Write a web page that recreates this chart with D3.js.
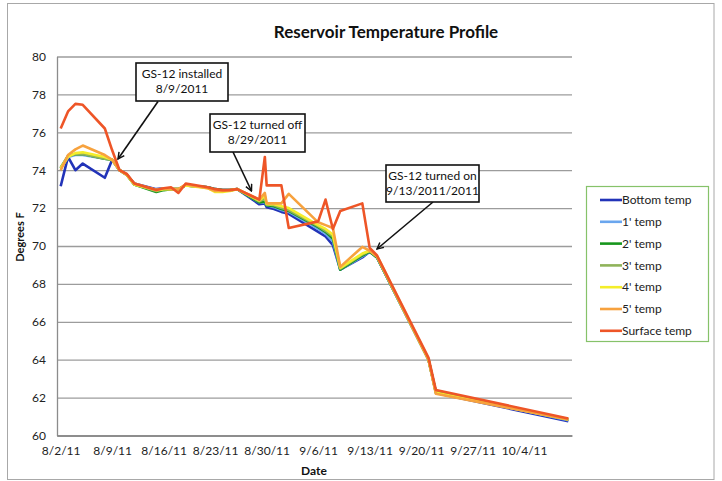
<!DOCTYPE html>
<html>
<head>
<meta charset="utf-8">
<script src="https://cdn.jsdelivr.net/npm/d3@7"></script>
<style>
  html, body { margin: 0; padding: 0; background: #fff; }
  svg { display: block; font-family: Lato, "Open Sans", sans-serif; }
</style>
</head>
<body>
<svg id="chart" width="722" height="481"></svg>
<script>
// ---------------- DATA ----------------
const title = "Reservoir Temperature Profile";
const seriesNames = ["Bottom temp", "1' temp", "2' temp", "3' temp", "4' temp", "5' temp", "Surface temp"];
const seriesColors = ["#2233b8", "#6aa6ee", "#17961c", "#8fb35a", "#f4ee2a", "#f7a23e", "#ee5527"];

const dates = [
  "2011-08-02", "2011-08-03", "2011-08-04", "2011-08-05", "2011-08-08", "2011-08-09", "2011-08-10",
  "2011-08-11", "2011-08-12", "2011-08-15", "2011-08-16", "2011-08-17", "2011-08-18", "2011-08-19",
  "2011-08-22", "2011-08-23", "2011-08-24", "2011-08-25", "2011-08-26", "2011-08-29", "2011-08-29 18:00",
  "2011-08-30", "2011-08-31", "2011-09-01", "2011-09-02", "2011-09-06", "2011-09-07", "2011-09-08",
  "2011-09-09", "2011-09-12", "2011-09-13", "2011-09-14", "2011-09-21", "2011-09-22", "2011-10-10"
];

const bottomTemp = [73.15, 74.7, 74.0, 74.35, 73.6, 74.55, 74.0, 73.75, 73.3, 73.0, 73.05, 73.0, 73.0, 73.2,
  73.1, 73.0, 72.95, 72.95, 73.0, 72.2, 72.25, 72.05, 71.95, 71.8, 71.7, 70.75, 70.5, 70.05,
  68.75, 69.4, 69.7, 69.4, 64.0, 62.25, 60.75];
const temp1 = [74.1, 74.7, 74.8, 74.8, 74.6, 74.55, 74.0, 73.75, 73.25, 72.95, 73.05, 73.0, 73.0, 73.2,
  73.1, 73.0, 72.95, 72.95, 73.0, 72.3, 72.3, 72.15, 72.05, 71.9, 71.8, 70.9, 70.65, 70.25,
  68.75, 69.45, 69.7, 69.4, 64.0, 62.3, 60.8];
const temp2 = [74.1, 74.75, 74.85, 74.85, 74.6, 74.55, 74.0, 73.75, 73.25, 72.85, 72.95, 73.0, 73.0, 73.2,
  73.1, 73.0, 72.95, 72.95, 73.0, 72.3, 72.35, 72.15, 72.1, 71.95, 71.85, 71.0, 70.75, 70.4,
  68.75, 69.5, 69.7, 69.4, 64.0, 62.3, 60.85];
const temp3 = [74.15, 74.75, 74.85, 74.85, 74.6, 74.55, 74.0, 73.75, 73.25, 72.9, 73.0, 73.0, 73.0, 73.2,
  73.1, 72.95, 72.9, 72.95, 73.0, 72.35, 72.5, 72.2, 72.15, 72.0, 71.9, 71.05, 70.8, 70.5,
  68.8, 69.55, 69.75, 69.45, 64.0, 62.3, 60.85];
const temp4 = [74.1, 74.7, 74.9, 74.95, 74.7, 74.55, 74.0, 73.75, 73.25, 72.95, 73.0, 73.0, 73.0, 73.2,
  73.05, 72.85, 72.85, 72.9, 73.0, 72.4, 72.65, 72.2, 72.2, 72.1, 72.0, 71.1, 70.9, 70.6,
  68.85, 69.6, 69.75, 69.45, 64.0, 62.25, 60.85];
const temp5 = [74.0, 74.8, 75.1, 75.3, 74.8, 74.55, 74.0, 73.75, 73.3, 72.95, 73.05, 73.0, 73.0, 73.25,
  73.05, 72.9, 72.9, 72.95, 73.0, 72.45, 72.8, 72.25, 72.25, 72.25, 72.75, 71.25, 71.1, 70.95,
  68.9, 69.95, 69.75, 69.45, 64.0, 62.2, 60.85];
const surfaceTemp = [76.2, 77.1, 77.5, 77.45, 76.2, 75.05, 74.0, 73.8, 73.3, 72.95, 73.05, 73.1, 72.8, 73.3,
  73.1, 73.0, 72.95, 72.95, 73.0, 72.45, 74.7, 73.2, 73.2, 73.2, 70.95, 71.3, 72.45, 70.9,
  71.85, 72.25, 69.9, 69.5, 64.1, 62.4, 60.9];

const yTicks = [60, 62, 64, 66, 68, 70, 72, 74, 76, 78, 80];
const xTickLabels = ["8/2/11", "8/9/11", "8/16/11", "8/23/11", "8/30/11", "9/6/11", "9/13/11", "9/20/11", "9/27/11", "10/4/11"];

const annotations = [
  {lines: ["GS-12 installed", "8/9/2011"]},
  {lines: ["GS-12 turned off", "8/29/2011"]},
  {lines: ["GS-12 turned on", "9/13/2011/2011"]}
];

// ---------------- CHART ----------------
const seriesValues = [bottomTemp, temp1, temp2, temp3, temp4, temp5, surfaceTemp];
const parseDate = s => s.length > 10 ? d3.utcParse("%Y-%m-%d %H:%M")(s) : d3.utcParse("%Y-%m-%d")(s);
const parseTick = d3.utcParse("%m/%d/%y");
const dateObjs = dates.map(parseDate);

const svg = d3.select("#chart");
const plot = {left: 57, right: 572, top: 56.5, bottom: 435.5};

// outer border
svg.append("rect").attr("x", 7.5).attr("y", 3.5).attr("width", 706.5).attr("height", 476)
  .attr("fill", "#fff").attr("stroke", "#a8a8a8").attr("stroke-width", 1);

const x = d3.scaleUtc()
  .domain([Date.UTC(2011, 7, 1, 12), Date.UTC(2011, 9, 10, 12)])
  .range([plot.left, plot.right]);
const y = d3.scaleLinear().domain([60, 80]).range([plot.bottom, plot.top]);

// title
svg.append("text").attr("x", 386).attr("y", 38).attr("text-anchor", "middle")
  .attr("font-size", 17).attr("font-weight", "bold").attr("fill", "#111").text(title);

// gridlines
svg.append("g").attr("class", "grid")
  .attr("transform", `translate(${plot.left},0)`)
  .call(d3.axisLeft(y).tickValues(yTicks).tickSize(-(plot.right - plot.left)).tickFormat(""))
  .call(g => g.select(".domain").remove())
  .call(g => g.selectAll("line").attr("stroke", "#9c9c9c").attr("stroke-width", 1.3));

// y axis labels
const yAxis = svg.append("g").attr("transform", `translate(${plot.left},0)`)
  .call(d3.axisLeft(y).tickValues(yTicks).tickSize(0).tickPadding(11).tickFormat(d3.format("d")));
yAxis.select(".domain").attr("stroke", "#8c8c8c").attr("stroke-width", 1.3);
yAxis.selectAll("text").attr("font-size", 12).attr("fill", "#222").attr("font-family", "Lato, sans-serif");

// x axis
const xAxis = svg.append("g").attr("transform", `translate(0,${plot.bottom})`)
  .call(d3.axisBottom(x).tickValues(xTickLabels.map(parseTick)).tickSize(0).tickPadding(11)
    .tickFormat((d, i) => xTickLabels[i]));
xAxis.select(".domain").attr("stroke", "#808080").attr("stroke-width", 1.6);
xAxis.selectAll("text").attr("font-size", 12).attr("fill", "#222").attr("font-family", "Lato, sans-serif");

// axis titles
svg.append("text").attr("x", 314).attr("y", 475).attr("text-anchor", "middle")
  .attr("font-size", 12).attr("font-weight", "bold").attr("fill", "#111").text("Date");
svg.append("text").attr("transform", "translate(24,237) rotate(-90)").attr("text-anchor", "middle")
  .attr("font-size", 11).attr("font-weight", "bold").attr("fill", "#111").text("Degrees F");

// lines
const line = d3.line().x((d, i) => x(dateObjs[i])).y(d => y(d));
svg.append("g").selectAll("path").data(seriesValues).join("path")
  .attr("d", d => line(d))
  .attr("fill", "none")
  .attr("stroke", (d, i) => seriesColors[i])
  .attr("stroke-width", 2.6)
  .attr("stroke-linejoin", "round");

// legend
const lg = svg.append("g");
lg.append("rect").attr("x", 586.5).attr("y", 186.5).attr("width", 122).attr("height", 155)
  .attr("fill", "#fff").attr("stroke", "#86c26a").attr("stroke-width", 1.2);
seriesNames.forEach((name, i) => {
  const yy = 200 + i * 21.8;
  lg.append("line").attr("x1", 600).attr("x2", 622).attr("y1", yy).attr("y2", yy)
    .attr("stroke", seriesColors[i]).attr("stroke-width", 2.6);
  lg.append("text").attr("x", 622).attr("y", yy + 4.2).attr("font-size", 12).attr("fill", "#222").text(name);
});

// annotations
const defs = svg.append("defs");
defs.append("marker").attr("id", "arrow").attr("viewBox", "0 0 10 10").attr("refX", 9).attr("refY", 5)
  .attr("markerWidth", 5).attr("markerHeight", 5).attr("orient", "auto")
  .append("path").attr("d", "M1,1 L9,5 L1,9").attr("fill", "none").attr("stroke", "#111").attr("stroke-width", 1.8);

const boxes = [
  {x: 136, y: 63, w: 92, h: 38, ax: 158, ay: 101.5, tx: 118, ty: 159},
  {x: 210, y: 114, w: 95, h: 38, ax: 233, ay: 152, tx: 251.5, ty: 191},
  {x: 386, y: 165, w: 93, h: 37, ax: 433, ay: 202, tx: 377, ty: 249}
];
annotations.forEach((a, i) => {
  const b = boxes[i];
  const g = svg.append("g");
  g.append("line").attr("x1", b.ax).attr("y1", b.ay).attr("x2", b.tx).attr("y2", b.ty)
    .attr("stroke", "#111").attr("stroke-width", 1.6).attr("marker-end", "url(#arrow)");
  g.append("rect").attr("x", b.x).attr("y", b.y).attr("width", b.w).attr("height", b.h)
    .attr("fill", "#fff").attr("stroke", "#111").attr("stroke-width", 1.6);
  a.lines.forEach((t, j) => {
    g.append("text").attr("x", b.x + b.w / 2).attr("y", b.y + 15 + j * 14.5).attr("text-anchor", "middle")
      .attr("font-size", 12).attr("fill", "#111").text(t);
  });
});
</script>
</body>
</html>
